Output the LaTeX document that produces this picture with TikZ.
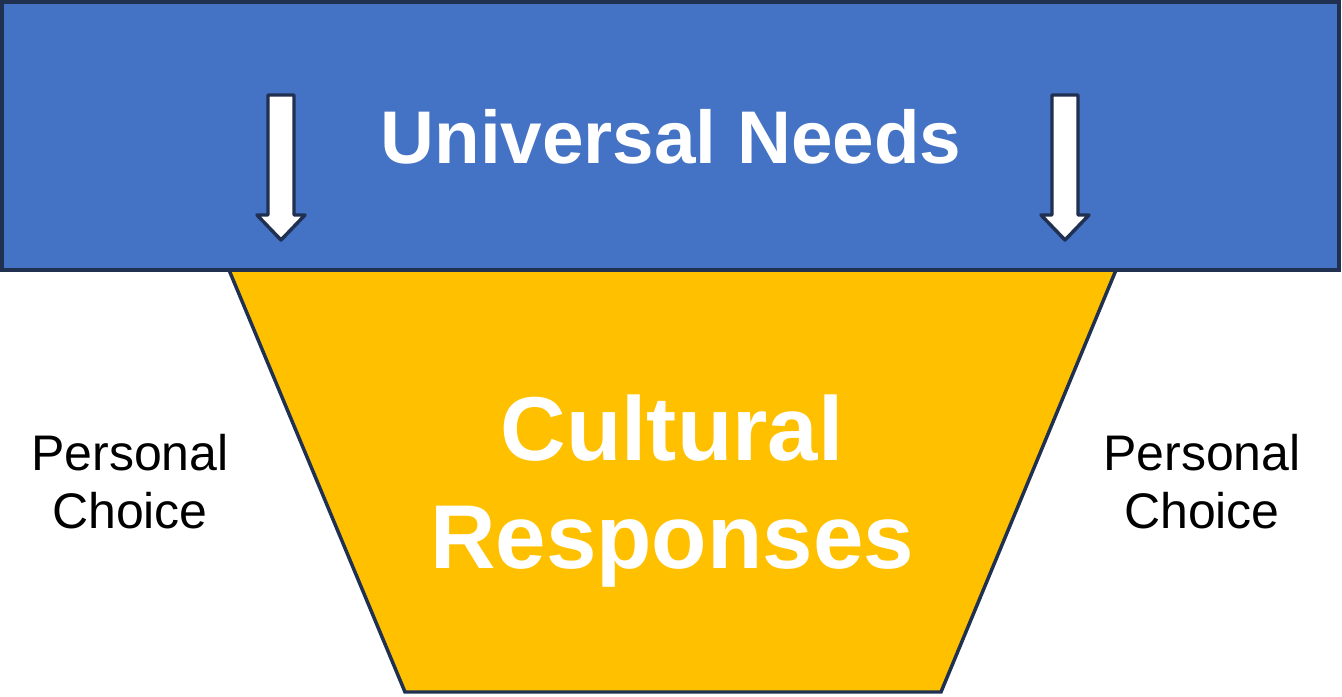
\documentclass[tikz,border=0pt]{standalone}
\usepackage{fontspec}
\setmainfont{Liberation Sans}
\definecolor{bluefill}{HTML}{4472C4}
\definecolor{navy}{HTML}{1F3050}
\definecolor{gold}{HTML}{FFC000}
\begin{document}
\begin{tikzpicture}[x=0.75pt,y=-0.75pt,
  box/.style={draw=navy,line width=2.6pt,line join=miter},
  downarrow/.style={draw=navy,fill=white,line width=2.6pt,line join=round},
  bigtext/.style={text=white,font=\bfseries\fontsize{56}{67}\selectfont,anchor=base},
  culttext/.style={text=white,font=\bfseries\fontsize{68}{81}\selectfont,anchor=base},
  sidetext/.style={text=black,font=\fontsize{37.5}{43.5}\selectfont,anchor=base}]
\useasboundingbox (0,0) rectangle (1342,696);
% trapezoid
\path[box,fill=gold] (229,270) -- (1116,270) -- (941,692) -- (405,692) -- cycle;
% top bar
\path[box,fill=bluefill] (2,2) rectangle (1339,270);
% arrows
\path[downarrow] (268,95) -- (294,95) -- (294,215) -- (305,215) -- (281,240) -- (257,215) -- (268,215) -- cycle;
\path[downarrow] (1052,95) -- (1078,95) -- (1078,215) -- (1089,215) -- (1065,240) -- (1041,215) -- (1052,215) -- cycle;
% texts
\node[bigtext] (un) at (671,163) {Universal Needs};
\node[culttext] (c1) at (672,460) {Cultural};
\node[culttext] (c2) at (672,568) {Responses};
\node[sidetext] (pl1) at (130,470) {Personal};
\node[sidetext] (pl2) at (130,528) {Choice};
\node[sidetext] (pr1) at (1202,470) {Personal};
\node[sidetext] (pr2) at (1202,528) {Choice};
\end{tikzpicture}
\end{document}
